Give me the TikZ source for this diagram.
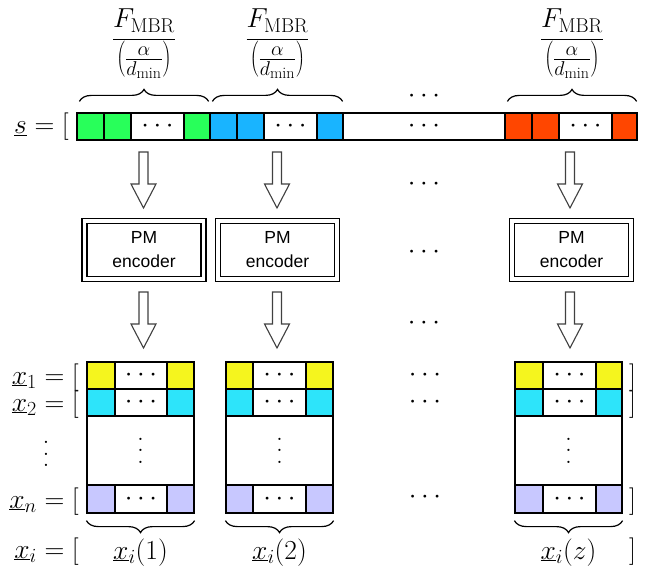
\RequirePackage{fix-cm}
\documentclass[tikz,border=0pt]{standalone}
\usepackage{fontspec}
\newfontfamily\encfont{Liberation Sans}
\usetikzlibrary{decorations.pathreplacing,calc}
\DeclareMathSizes{27.5}{27.5}{20}{16}

\definecolor{cgreen}{RGB}{40,255,90}
\definecolor{cblue}{RGB}{25,180,255}
\definecolor{corange}{RGB}{255,70,0}
\definecolor{cyellow}{RGB}{245,245,30}
\definecolor{ccyan}{RGB}{45,228,250}
\definecolor{clav}{RGB}{200,200,255}

\tikzset{
  cell/.style={draw, line width=1.2pt, inner sep=0pt},
  encbox/.style={draw, double, line width=1.1pt, double distance=3.9pt,
    minimum width=119pt, minimum height=58pt, align=center,
    font=\encfont\fontsize{17.5}{24}\selectfont},
  hollow/.style={draw=black!75, line width=1.1pt, fill=white, line join=miter},
  bracetop/.style={draw, line width=1.2pt, decorate,
    decoration={brace, amplitude=12pt}},
  lbl/.style={inner sep=0pt},
}

% vertical ellipsis with wider spacing
\newcommand\vdotsw{\vbox{\baselineskip=11.5pt\lineskiplimit=0pt\hbox{.}\hbox{.}\hbox{.}}}

% a cell: name, x-left, x-right, y-top, y-bottom, fill, content
\newcommand\mkcell[7]{%
  \node[cell, fill=#6, minimum width={#3pt-#2pt}, minimum height={#5pt-#4pt}]
    (#1) at ({(#2+#3)/2},{(#4+#5)/2}) {#7};}

% hollow downward arrow from a top point to a tip point
\newcommand\hollowarrow[2]{%
  \draw[hollow] let \p1=(#1), \p2=(#2) in
    (\x1-4.5pt,\y1) -- (\x1+4.5pt,\y1) -- (\x1+4.5pt,\y2+24pt)
    -- (\x1+12.5pt,\y2+24pt) -- (\x1,\y2) -- (\x1-12.5pt,\y2+24pt)
    -- (\x1-4.5pt,\y2+24pt) -- cycle;}

% one coded column block: prefix, four column edges
\newcommand\mkblock[5]{%
  \mkcell{#1ya}{#2}{#3}{362}{389}{cyellow}{}
  \mkcell{#1yb}{#3}{#4}{362}{389}{white}{$\cdots$}
  \mkcell{#1yc}{#4}{#5}{362}{389}{cyellow}{}
  \mkcell{#1ca}{#2}{#3}{389}{416}{ccyan}{}
  \mkcell{#1cb}{#3}{#4}{389}{416}{white}{$\cdots$}
  \mkcell{#1cc}{#4}{#5}{389}{416}{ccyan}{}
  \mkcell{#1mid}{#2}{#5}{416}{485}{white}{\vdotsw}
  \mkcell{#1la}{#2}{#3}{485}{513}{clav}{}
  \mkcell{#1lb}{#3}{#4}{485}{513}{white}{$\cdots$}
  \mkcell{#1lc}{#4}{#5}{485}{513}{clav}{}}

\begin{document}
\begin{tikzpicture}[x=1pt, y=-1pt, font=\fontsize{27.5}{33}\selectfont]
\useasboundingbox (0,0) rectangle (645,572);

% ---- source vector s ----
\node[lbl, anchor=base east] (slbl) at (69,134) {$\underline{s} = [$};
\mkcell{g1}{77}{104}{113}{140}{cgreen}{}
\mkcell{g2}{104}{131}{113}{140}{cgreen}{}
\mkcell{gd}{131}{184}{113}{140}{white}{$\cdots$}
\mkcell{g3}{184}{210}{113}{140}{cgreen}{}
\mkcell{b1}{210}{237}{113}{140}{cblue}{}
\mkcell{b2}{237}{264}{113}{140}{cblue}{}
\mkcell{bd}{264}{317}{113}{140}{white}{$\cdots$}
\mkcell{b3}{317}{343}{113}{140}{cblue}{}
\mkcell{mid}{343}{505}{113}{140}{white}{$\cdots$}
\mkcell{o1}{505}{532}{113}{140}{corange}{}
\mkcell{o2}{532}{559}{113}{140}{corange}{}
\mkcell{od}{559}{612}{113}{140}{white}{$\cdots$}
\mkcell{o3}{612}{637}{113}{140}{corange}{}

% ---- braces over the groups ----
\newcommand\fmbr{$\displaystyle\frac{F_{\mathrm{MBR}}}{\left(\frac{\alpha}{d_{\min}}\right)}$}
\draw[bracetop] ([xshift=3pt,yshift=11pt]g1.north west) -- ([xshift=-2pt,yshift=11pt]g3.north east)
  node[midway, above=22pt, lbl] (f1) {\fmbr};
\draw[bracetop] ([xshift=3pt,yshift=11pt]b1.north west) -- ([xshift=-1pt,yshift=11pt]b3.north east)
  node[midway, above=22pt, lbl] (f2) {\fmbr};
\draw[bracetop] ([xshift=3pt,yshift=11pt]o1.north west) -- ([xshift=-1pt,yshift=11pt]o3.north east)
  node[midway, above=22pt, lbl] (f3) {\fmbr};

% ---- encoders ----
\node[encbox] (e1) at (144,250) {PM\\encoder};
\node[encbox] (e2) at (277.5,250) {PM\\encoder};
\node[encbox] (e3) at (571.5,250) {PM\\encoder};

% ---- hollow arrows ----
\coordinate (a1t) at (143.5,152); \coordinate (a1h) at (143.5,208);
\coordinate (a2t) at (277,152);   \coordinate (a2h) at (277,208);
\coordinate (a3t) at (570,152);   \coordinate (a3h) at (570,208);
\coordinate (c1t) at (143.5,292); \coordinate (c1h) at (143.5,348);
\coordinate (c2t) at (277,292);   \coordinate (c2h) at (277,348);
\coordinate (c3t) at (570,292);   \coordinate (c3h) at (570,348);
\hollowarrow{a1t}{a1h}
\hollowarrow{a2t}{a2h}
\hollowarrow{a3t}{a3h}
\hollowarrow{c1t}{c1h}
\hollowarrow{c2t}{c2h}
\hollowarrow{c3t}{c3h}

% ---- output blocks ----
\mkblock{m1}{87}{115}{167}{194}
\mkblock{m2}{226}{253}{306}{333}
\mkblock{m3}{515}{543}{596}{622}

% ---- row labels ----
\node[lbl, anchor=base east] (x1l) at (79,384) {$\underline{x}_1 = [$};
\node[lbl, anchor=base east] (x2l) at (79,411) {$\underline{x}_2 = [$};
\node[lbl] (vdl) at (46,454) {\vdotsw};
\node[lbl, anchor=base east] (xnl) at (79,508) {$\underline{x}_n = [$};
\node[lbl, anchor=base east] (xil) at (79,558) {$\underline{x}_i = [$};

\node[lbl, anchor=base west] (r1) at (629,384) {$]$};
\node[lbl, anchor=base west] (r2) at (629,411) {$]$};
\node[lbl, anchor=base west] (rn) at (629,508) {$]$};
\node[lbl, anchor=base west] (ri) at (629,558) {$]$};

% ---- braces under the blocks ----
\draw[bracetop] ([yshift=-7pt]m1lc.south east) -- ([yshift=-7pt]m1la.south west);
\draw[bracetop] ([yshift=-7pt]m2lc.south east) -- ([yshift=-7pt]m2la.south west);
\draw[bracetop] ([yshift=-7pt]m3lc.south east) -- ([yshift=-7pt]m3la.south west);
\node[lbl, anchor=base] (l1) at (140.5,559) {$\underline{x}_i(1)$};
\node[lbl, anchor=base] (l2) at (279.5,559) {$\underline{x}_i(2)$};
\node[lbl, anchor=base] (l3) at (568.5,559) {$\underline{x}_i(z)$};

% ---- ellipses in the middle column ----
\node[lbl] (d1) at (424,96) {$\cdots$};
\node[lbl] (d2) at (424,184) {$\cdots$};
\node[lbl] (d3) at (424,252) {$\cdots$};
\node[lbl] (d4) at (424,323) {$\cdots$};
\node[lbl] (d5) at (425,375) {$\cdots$};
\node[lbl] (d6) at (425,402) {$\cdots$};
\node[lbl] (d7) at (425,497) {$\cdots$};
\end{tikzpicture}
\end{document}
